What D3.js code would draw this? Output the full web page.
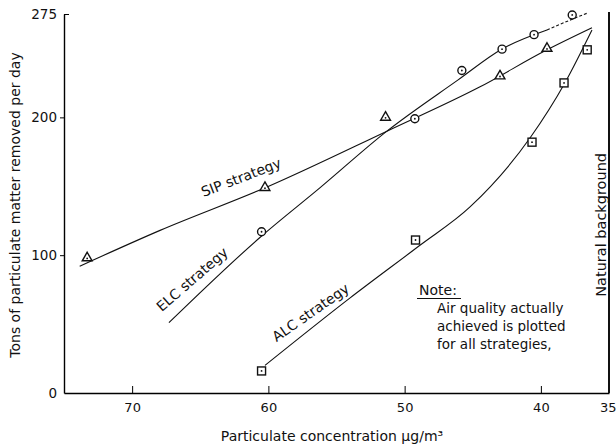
<!DOCTYPE html>
<html>
<head>
<meta charset="utf-8">
<script src="https://cdn.jsdelivr.net/npm/d3@7"></script>
<style>
  html, body { margin: 0; padding: 0; background: #fff; }
  svg { display: block; }
  text { font-family: "DejaVu Sans", sans-serif; fill: #111; }
</style>
</head>
<body>
<svg id="chart" width="616" height="444"></svg>
<script>
// ---- data ----
const xTicks = [70, 60, 50, 40, 35];
const yTicks = [0, 100, 200, 275];

// observed points
const sipX = [73.3, 60.25, 51.4, 43.0, 39.55];
const sipY = [98, 149, 200, 230, 250];
const elcX = [60.5, 49.25, 45.8, 42.85, 40.5, 37.7];
const elcY = [117, 199, 234, 249.5, 260, 274.3];
const alcX = [60.5, 49.2, 40.65, 38.3, 36.6];
const alcY = [16, 111, 182, 225, 249];

// fitted curves
const sipFitX = [73.85, 67.95, 60.1, 51.3, 44.5, 39.55, 36.25];
const sipFitY = [92, 118, 149.5, 190, 222, 249, 265];
const elcFitX = [67.3, 60.6, 56.2, 51.3, 46.1, 42.85, 39.55];
const elcFitY = [51, 113, 149, 190, 227, 249.6, 263.4];
const elcExtX = [39.55, 38.0, 36.55];
const elcExtY = [263.4, 270, 275.8];
const alcFitX = [60.25, 54.0, 48.9, 45.2, 40.8, 38.2, 36.25];
const alcFitY = [20, 69, 107, 135, 185, 225.7, 263.4];

const xTitle = "Particulate concentration \u03BCg/m\u00B3";
const yTitle = "Tons of particulate matter removed per day";
const rightLabel = "Natural background";
const noteTitle = "Note:";
const noteLines = ["Air quality actually", "achieved is plotted", "for all strategies,"];

// ---- drawing ----
const svg = d3.select("#chart");
const x = d3.scaleLinear().domain([75, 35]).range([64, 609]);
const y = d3.scaleLinear().domain([0, 275]).range([393, 14]);

const zip = (a, b) => a.map((v, i) => [v, b[i]]);
const line = d3.line().x(d => x(d[0])).y(d => y(d[1])).curve(d3.curveMonotoneX);

// axes
const yAxis = svg.append("g").attr("transform", `translate(${x(75)},0)`)
  .call(d3.axisLeft(y).tickValues(yTicks).tickSize(4).tickPadding(3).tickSizeOuter(0));
yAxis.selectAll("text").style("font-size", "13.5px").style("font-family", "DejaVu Sans");
yAxis.selectAll(".tick").filter(d => d === 275).select("line").attr("x2", 5);
yAxis.selectAll(".tick").filter(d => d === 0).select("line").remove();
yAxis.select(".domain").attr("stroke-width", 1.4);

const xAxis = svg.append("g").attr("transform", `translate(0,${y(0)})`)
  .call(d3.axisBottom(x).tickValues(xTicks).tickSize(-7).tickPadding(10).tickSizeOuter(0));
xAxis.selectAll("text").style("font-size", "13px").style("font-family", "DejaVu Sans");
const t35 = xAxis.selectAll(".tick").filter(d => d === 35);
t35.select("line").remove();
t35.select("text").attr("text-anchor", "end").attr("x", 7);
xAxis.select(".domain").attr("stroke-width", 1.6);

// right boundary (natural background)
svg.append("line")
  .attr("x1", x(35)).attr("x2", x(35))
  .attr("y1", y(276.5)).attr("y2", y(0))
  .attr("stroke", "#111").attr("stroke-width", 2);

svg.append("text")
  .attr("transform", `translate(${x(35) - 8},${y(122)}) rotate(-90)`)
  .attr("text-anchor", "middle").attr("dominant-baseline", "central")
  .style("font-size", "14.5px").text(rightLabel);

// titles
svg.append("text").attr("x", 332).attr("y", 436)
  .attr("text-anchor", "middle").attr("dominant-baseline", "central")
  .style("font-size", "14px").text(xTitle);
svg.append("text")
  .attr("transform", `translate(15,${205}) rotate(-90)`)
  .attr("text-anchor", "middle").attr("dominant-baseline", "central")
  .style("font-size", "14px").text(yTitle);

// curves
const curves = svg.append("g").attr("fill", "none").attr("stroke", "#111").attr("stroke-width", 1.1);
curves.append("path").attr("d", line(zip(sipFitX, sipFitY)));
curves.append("path").attr("d", line(zip(elcFitX, elcFitY)));
curves.append("path").attr("d", line(zip(elcExtX, elcExtY))).attr("stroke-dasharray", "3,2");
curves.append("path").attr("d", line(zip(alcFitX, alcFitY)));

// markers
const mk = svg.append("g").attr("fill", "#fff").attr("stroke", "#111").attr("stroke-width", 1.4);
const tri = d3.symbol().type(d3.symbolTriangle).size(42);
zip(sipX, sipY).forEach(d => {
  const g = mk.append("g").attr("transform", `translate(${x(d[0])},${y(d[1])})`);
  g.append("path").attr("d", tri());
  g.append("circle").attr("r", 0.9).attr("fill", "#111").attr("stroke", "none").attr("cy", 0.5);
});
zip(elcX, elcY).forEach(d => {
  const g = mk.append("g").attr("transform", `translate(${x(d[0])},${y(d[1])})`);
  g.append("circle").attr("r", 4);
  g.append("circle").attr("r", 0.9).attr("fill", "#111").attr("stroke", "none");
});
zip(alcX, alcY).forEach(d => {
  const g = mk.append("g").attr("transform", `translate(${x(d[0])},${y(d[1])})`);
  g.append("rect").attr("x", -4).attr("y", -4).attr("width", 8).attr("height", 8);
  g.append("circle").attr("r", 0.9).attr("fill", "#111").attr("stroke", "none");
});

// strategy labels
const labels = [
  { t: "SIP strategy", cx: 62.0, cy: 156.5, a: -21 },
  { t: "ELC strategy", cx: 65.6, cy: 82.5, a: -41 },
  { t: "ALC strategy", cx: 56.9, cy: 58.5, a: -35 }
];
labels.forEach(l => {
  svg.append("text")
    .attr("transform", `translate(${x(l.cx)},${y(l.cy)}) rotate(${l.a})`)
    .attr("text-anchor", "middle").attr("dominant-baseline", "central")
    .style("font-size", "14px").text(l.t);
});

// note
svg.append("text").attr("x", 419).attr("y", 295).style("font-size", "14px").text(noteTitle);
svg.append("line").attr("x1", 417).attr("x2", 461).attr("y1", 298.5).attr("y2", 298.5)
  .attr("stroke", "#111").attr("stroke-width", 1);
noteLines.forEach((t, i) => {
  svg.append("text").attr("x", 437).attr("y", 313 + i * 18).style("font-size", "13.5px").text(t);
});
</script>
</body>
</html>
